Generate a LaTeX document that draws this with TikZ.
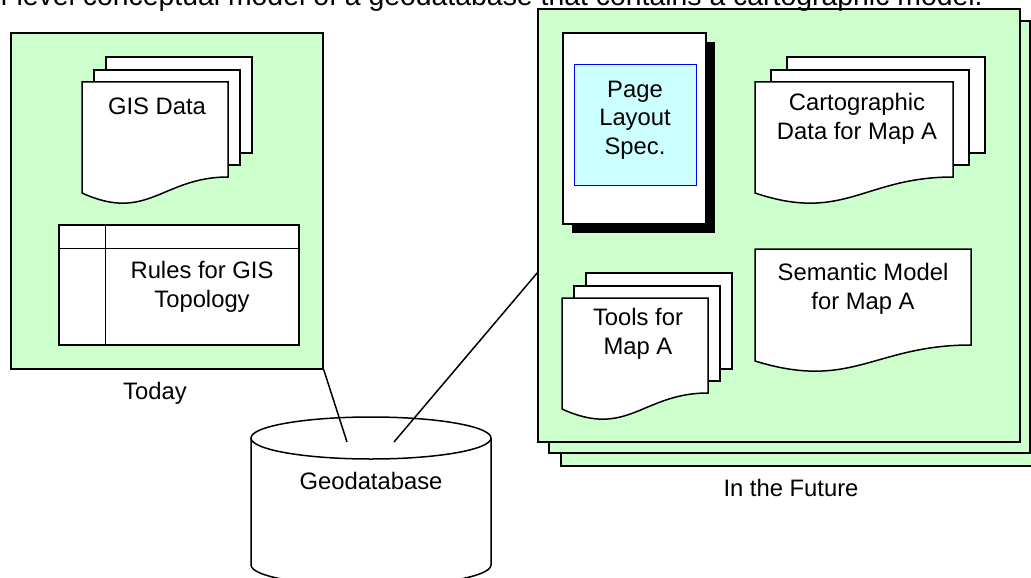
\documentclass[tikz,border=0pt]{standalone}
\usepackage{fontspec}
\setmainfont{Liberation Sans}
\definecolor{verdeclaro}{HTML}{CCFFCC}
\definecolor{celeste}{HTML}{CCFFFF}
\tikzset{
  marco/.style={draw, line width=1.5pt, fill=verdeclaro},
  hojita/.style={draw, line width=1.5pt, fill=white},
  linea/.style={line width=1.5pt},
  texto/.style={font=\fontsize{23.8}{28.5}\selectfont, align=center, inner sep=0pt}
}
% hoja con borde inferior ondulado: x1, y1, x2, y del borde derecho
\newcommand{\hoja}[4]{%
  \draw[hojita] (#1,#2) -- (#3,#2) -- (#3,#4)
    .. controls ({#1+0.55*(#3-#1)},#4) and ({#1+0.45*(#3-#1)},{#4+46}) .. (#1,{#4+16}) -- cycle;}
% tres hojas apiladas, #5 = desplazamiento en x
\newcommand{\pila}[5]{%
  \draw[hojita] ({#1+2*#5},{#2-25}) rectangle ({#3+2*#5},{#4-24});
  \draw[hojita] ({#1+#5},{#2-12}) rectangle ({#3+#5},{#4-12});
  \hoja{#1}{#2}{#3}{#4}}
\begin{document}
\begin{tikzpicture}[x=1pt, y=-1pt]
    \useasboundingbox (0,0) rectangle (1031,578);
    \clip (0,0) rectangle (1031,578);

    % Hoy
    \node[marco, minimum width=312, minimum height=336] (hoy) at (167,201) {};
    \pila{82}{82}{228}{177}{12}
    \node[texto] (gis) at (157,106) {GIS Data};
    \node[hojita, minimum width=240, minimum height=120] (reglas) at (179,285) {};
    \draw[linea] ([xshift=47]reglas.north west) -- ([xshift=47]reglas.south west);
    \draw[linea] ([yshift=-24]reglas.north west) -- ([yshift=-24]reglas.north east);
    \node[texto] (txtreglas) at (202,287) {Rules for GIS\\Topology};
    \node[texto] (hoylbl) at (155,393) {Today};

    % En el futuro
    \draw[marco] (561,33) rectangle (1041,466);
    \draw[marco] (549,21) rectangle (1030,453);
    \node[marco, minimum width=482, minimum height=433] (futuro) at (779,225.5) {};
    \fill (572,42) rectangle (715,233);
    \node[hojita, minimum width=143, minimum height=191] (pagina) at (634.5,128.5) {};
    \node[draw=blue, fill=celeste, line width=1pt, minimum width=122, minimum height=120] (spec) at (635,125) {};
    \node[texto] (txtspec) at (635,120) {Page\\Layout\\Spec.};
    \pila{755}{82}{953}{177}{16}
    \node[texto] (carto) at (857,119) {Cartographic\\Data for Map A};
    \hoja{755}{249}{971}{345}
    \node[texto] (semantico) at (863,289) {Semantic Model\\for Map A};
    \pila{562}{298}{708}{393}{12}
    \node[texto] (herram) at (638,334) {Tools for\\Map A};
    \node[texto] (futurolbl) at (791,488) {In the Future};

    % Cilindro
    \draw[hojita] (251,438) -- (251,565) arc[start angle=180, end angle=0, x radius=120, y radius=21] -- (491,438);
    \draw[hojita] (371,438) ellipse [x radius=120, y radius=21];
    \node[texto] (geo) at (371,481) {Geodatabase};
    \coordinate (geoizq) at (347,442);
    \coordinate (geoder) at (394,442);
    \coordinate (entrada) at (538,272);

    % Conexiones
    \draw[linea] (hoy.south east) -- (geoizq);
    \draw[linea] (geoder) -- (entrada);

    % Leyenda
    \node[texto, font=\fontsize{28.4}{34}\selectfont, anchor=base east] (leyenda) at (983,6)
        {High-level conceptual model of a geodatabase that contains a cartographic model.};
\end{tikzpicture}
\end{document}
